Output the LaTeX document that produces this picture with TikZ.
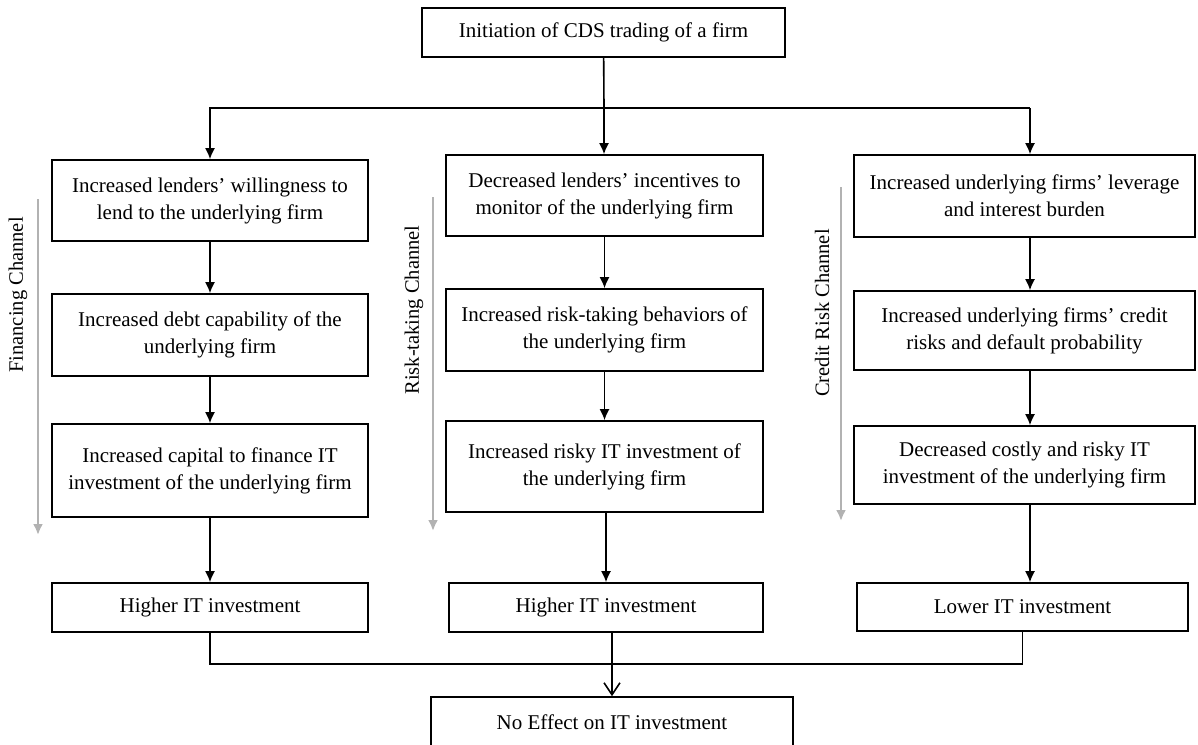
\documentclass[tikz,border=0pt]{standalone}
\usepackage{fontspec}
\setmainfont{Liberation Serif}
\usetikzlibrary{arrows.meta}
\pgfkeys{tikz/stepbox/.style={draw, line width=1.6pt, align=center, inner sep=0pt,
                                  font=\fontsize{21}{27}\selectfont}}
\pgfkeys{tikz/arr/.style={line width=1.6pt, -{Latex[length=11pt,width=10pt]}}}
\pgfkeys{tikz/chanarr/.style={line width=2.4pt, color=black!30, -{Latex[length=11pt,width=10pt]}}}
\pgfkeys{tikz/chanlabel/.style={rotate=90, font=\fontsize{20.5}{24}\selectfont}}

\begin{document}
\begin{tikzpicture}[x=1pt, y=-1pt]
                \useasboundingbox (0,0) rectangle (1198,744);

                \node[stepbox, minimum width=363, minimum height=49] (top) at (603.5, 32.5) {Initiation of CDS trading of a firm};
                \coordinate (split) at (604, 108);

                % financing channel
                \node[stepbox, minimum width=316, minimum height=81] (n1) at (210, 200.5) {Increased lenders’ willingness to\\lend to the underlying firm};
                \node[stepbox, minimum width=316, minimum height=82] (n2) at (210, 335) {Increased debt capability of the\\underlying firm};
                \node[stepbox, minimum width=316, minimum height=93] (n3) at (210, 470.5) {Increased capital to finance IT\\investment of the underlying firm};
                \node[stepbox, minimum width=316, minimum height=49] (n4) at (210, 607.5) {Higher IT investment};

                % risk-taking channel
                \node[stepbox, minimum width=317, minimum height=81] (n5) at (604.5, 195.5) {Decreased lenders’ incentives to\\monitor of the underlying firm};
                \node[stepbox, minimum width=317, minimum height=82] (n6) at (604.5, 330) {Increased risk-taking behaviors of\\the underlying firm};
                \node[stepbox, minimum width=317, minimum height=91] (n7) at (604.5, 466.5) {Increased risky IT investment of\\the underlying firm};
                \node[stepbox, minimum width=314, minimum height=49] (n8) at (606, 607.5) {Higher IT investment};

                % credit risk channel
                \node[stepbox, minimum width=341, minimum height=82] (n9) at (1024.5, 196) {Increased underlying firms’ leverage\\and interest burden};
                \node[stepbox, minimum width=341, minimum height=79] (n10) at (1024.5, 330.5) {Increased underlying firms’ credit\\risks and default probability};
                \node[stepbox, minimum width=341, minimum height=78] (n11) at (1024.5, 465) {Decreased costly and risky IT\\investment of the underlying firm};
                \node[stepbox, minimum width=331, minimum height=48] (n12) at (1022.5, 607) {Lower IT investment};

                \node[stepbox, minimum width=362, minimum height=50] (bottom) at (612, 722) {No Effect on IT investment};
                \coordinate (merge) at (612, 664);

                \draw[line width=1.6pt] (top) -- (split);
                \draw[line width=1.6pt] (n1.north |- split) -- ([xshift=5.5]n9.north |- split);
                \draw[arr] (split) -| (n1.north);
                \draw[arr] (split) -- (split |- n5.north);
                \draw[arr] ([xshift=5.5]n9.north |- split) -- ([xshift=5.5]n9.north);

                \draw[arr] (n1) -- (n2);
                \draw[arr] (n2) -- (n3);
                \draw[arr] (n3) -- (n4);
                \draw[arr] (n5) -- (n6);
                \draw[arr] (n6) -- (n7);
                \draw[arr] ([xshift=1.5]n7.south) -- ([xshift=1.5]n7.south |- n8.north);
                \draw[arr] ([xshift=5.5]n9.south) -- ([xshift=5.5]n10.north);
                \draw[arr] ([xshift=5.5]n10.south) -- ([xshift=5.5]n11.north);
                \draw[arr] ([xshift=5.5]n11.south) -- ([xshift=5.5]n11.south |- n12.north);

                \draw[line width=1.6pt] (n4.south) |- (merge);
                \draw[line width=1.6pt] (n12.south) |- (merge);
                \draw[line width=1.6pt, -{Straight Barb[length=12pt,width=16pt]}] (n8.south -| merge) -- (bottom.north);

                % channel arrows and labels
                \coordinate (c1a) at (38, 199);
                \coordinate (c1b) at (38, 535);
                \coordinate (c2a) at (433, 197);
                \coordinate (c2b) at (433, 531);
                \coordinate (c3a) at (841, 187);
                \coordinate (c3b) at (841, 521);
                \draw[chanarr] (c1a) -- (c1b);
                \draw[chanarr] (c2a) -- (c2b);
                \draw[chanarr] (c3a) -- (c3b);
                \node[chanlabel] (l1) at (18, 295) {Financing Channel};
                \node[chanlabel] (l2) at (414, 310) {Risk-taking Channel};
                \node[chanlabel] (l3) at (822, 313) {Credit Risk Channel};

            \end{tikzpicture}
\end{document}
